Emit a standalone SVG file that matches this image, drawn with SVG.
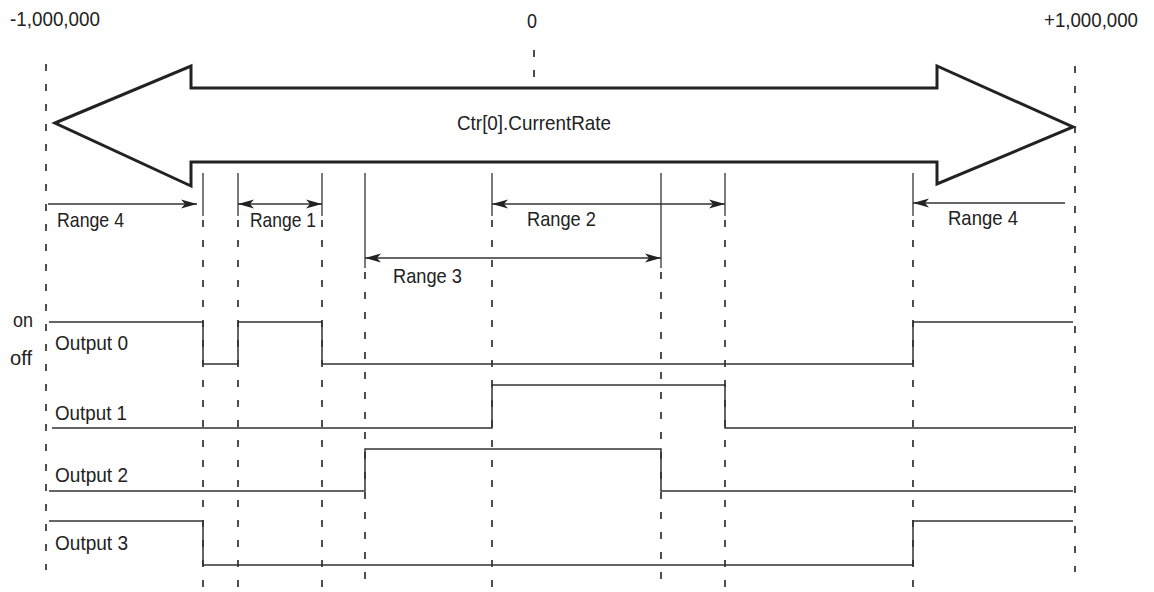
<svg xmlns="http://www.w3.org/2000/svg" width="1154" height="592" viewBox="0 0 1154 592">
<style>
text{font-family:"Liberation Sans",Arial,sans-serif;font-size:21px;fill:#222}
.dash{stroke:#222;stroke-width:1.6;stroke-dasharray:7 13;fill:none}
.tick{stroke:#333;stroke-width:1.3;fill:none}
.wave{stroke:#333;stroke-width:1.5;fill:none}
.dim{stroke:#333;stroke-width:1.3;fill:none}
</style>
<defs>
<marker id="ah" viewBox="0 0 16 10" refX="16" refY="5" markerWidth="16" markerHeight="10" markerUnits="userSpaceOnUse" orient="auto-start-reverse">
<path d="M0,0.5 L16,5 L0,9.5 L4,5 Z" fill="#222"/>
</marker>
</defs>
<g id="scale-labels">
<text x="10" y="26" textLength="90" lengthAdjust="spacingAndGlyphs">-1,000,000</text>
<text x="527" y="28" textLength="10" lengthAdjust="spacingAndGlyphs">0</text>
<text x="1044" y="27" textLength="94" lengthAdjust="spacingAndGlyphs">+1,000,000</text>
</g>
<g id="guides">
<line class="dash" x1="46" y1="64" x2="46" y2="570"/>
<line class="dash" x1="1075" y1="66" x2="1075" y2="572"/>
<line class="dash" x1="534" y1="50" x2="534" y2="88"/>
<line class="dash" x1="203" y1="220" x2="203" y2="592"/>
<line class="dash" x1="238" y1="220" x2="238" y2="592"/>
<line class="dash" x1="322" y1="220" x2="322" y2="592"/>
<line class="dash" x1="365" y1="272" x2="365" y2="592"/>
<line class="dash" x1="492" y1="220" x2="492" y2="592"/>
<line class="dash" x1="661" y1="272" x2="661" y2="592"/>
<line class="dash" x1="725" y1="220" x2="725" y2="592"/>
<line class="dash" x1="913" y1="220" x2="913" y2="592"/>
</g>
<g id="big-arrow">
<path d="M55,123 L191,66 L191,88 L937,88 L937,66 L1073,127 L937,184 L937,162 L191,162 L191,186 Z" fill="#fff" stroke="#222" stroke-width="3" stroke-linejoin="miter"/>
<text x="457" y="130" textLength="154" lengthAdjust="spacingAndGlyphs">Ctr[0].CurrentRate</text>
</g>
<g id="ticks">
<line class="tick" x1="203" y1="173" x2="203" y2="216"/>
<line class="tick" x1="238" y1="173" x2="238" y2="216"/>
<line class="tick" x1="322" y1="173" x2="322" y2="216"/>
<line class="tick" x1="365" y1="173" x2="365" y2="268"/>
<line class="tick" x1="492" y1="173" x2="492" y2="216"/>
<line class="tick" x1="661" y1="173" x2="661" y2="268"/>
<line class="tick" x1="725" y1="173" x2="725" y2="216"/>
<line class="tick" x1="913" y1="173" x2="913" y2="216"/>
</g>
<g id="connectors">
<line class="dim" x1="48" y1="204" x2="197" y2="204" marker-end="url(#ah)"/>
<line class="dim" x1="238" y1="204" x2="322" y2="204" marker-start="url(#ah)" marker-end="url(#ah)"/>
<line class="dim" x1="492" y1="204" x2="725" y2="204" marker-start="url(#ah)" marker-end="url(#ah)"/>
<line class="dim" x1="365" y1="258" x2="661" y2="258" marker-start="url(#ah)" marker-end="url(#ah)"/>
<line class="dim" x1="1065" y1="203" x2="913" y2="203" marker-end="url(#ah)"/>
</g>
<g id="range-labels">
<text x="57" y="227" textLength="67" lengthAdjust="spacingAndGlyphs">Range 4</text>
<text x="250" y="227" textLength="66" lengthAdjust="spacingAndGlyphs">Range 1</text>
<text x="527" y="226" textLength="69" lengthAdjust="spacingAndGlyphs">Range 2</text>
<text x="393" y="283" textLength="69" lengthAdjust="spacingAndGlyphs">Range 3</text>
<text x="948" y="225" textLength="70" lengthAdjust="spacingAndGlyphs">Range 4</text>
</g>
<g id="levels">
<text x="13" y="327" textLength="20" lengthAdjust="spacingAndGlyphs">on</text>
<text x="10" y="365" textLength="22" lengthAdjust="spacingAndGlyphs">off</text>
</g>
<g id="output0">
<path class="wave" d="M49,322 H203 V364 H238 V322 H322 V364 H913 V322 H1073"/>
<text x="55" y="350" textLength="73" lengthAdjust="spacingAndGlyphs">Output 0</text>
</g>
<g id="output1">
<path class="wave" d="M52,428 H492 V385 H725 V428 H1073"/>
<text x="55" y="420" textLength="72" lengthAdjust="spacingAndGlyphs">Output 1</text>
</g>
<g id="output2">
<path class="wave" d="M49,491 H365 V449 H661 V491 H1073"/>
<text x="55" y="482" textLength="73" lengthAdjust="spacingAndGlyphs">Output 2</text>
</g>
<g id="output3">
<path class="wave" d="M49,521 H203 V565 H913 V521 H1073"/>
<text x="55" y="550" textLength="73" lengthAdjust="spacingAndGlyphs">Output 3</text>
</g>
</svg>
